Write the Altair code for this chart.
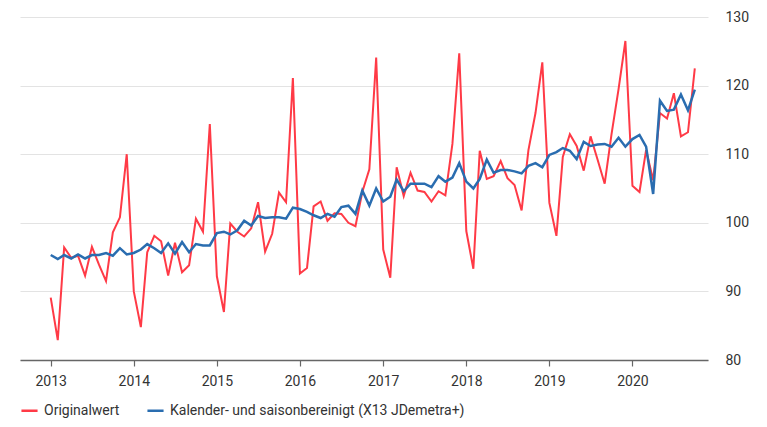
import altair as alt
import pandas as pd

years = list(range(2013, 2021))
original = [
    89.1, 82.9, 96.4, 94.9, 95.2, 92.3, 96.5, 93.9, 91.5, 98.6, 100.8, 110.0,
    90.0, 84.8, 95.7, 98.1, 97.3, 92.3, 97.1, 92.8, 93.8, 100.6, 98.7, 114.4,
    92.2, 87.0, 99.9, 98.7, 98.0, 99.2, 103.0, 95.8, 98.4, 104.4, 103.0, 121.1,
    92.6, 93.4, 102.4, 103.1, 100.3, 101.4, 101.3, 100.0, 99.5, 104.5, 107.8, 124.1,
    96.1, 92.0, 108.1, 103.9, 107.3, 104.7, 104.5, 103.1, 104.6, 104.0, 111.5, 124.7,
    98.8, 93.3, 110.5, 106.4, 106.8, 109.0, 106.5, 105.5, 101.8, 110.6, 116.0, 123.4,
    102.9, 98.1, 109.6, 112.9, 111.2, 107.6, 112.6, 109.2, 105.7, 112.9, 119.5, 126.5,
    105.4, 104.5, 110.6, 106.2, 116.0, 115.2, 118.9, 112.6, 113.2, 122.5,
]
adjusted = [
    95.3, 94.7, 95.3, 94.8, 95.4, 94.8, 95.3, 95.3, 95.6, 95.2, 96.3, 95.4,
    95.6, 96.1, 96.9, 96.3, 95.6, 97.0, 95.5, 97.2, 95.7, 96.9, 96.7, 96.7,
    98.5, 98.7, 98.3, 98.9, 100.3, 99.6, 101.0, 100.7, 100.8, 100.8, 100.6, 102.2,
    102.0, 101.6, 101.1, 100.7, 101.3, 100.9, 102.3, 102.5, 101.3, 104.7, 102.5, 105.0,
    103.1, 103.8, 106.3, 104.6, 105.7, 105.7, 105.7, 105.2, 106.8, 106.0, 106.6, 108.7,
    106.0, 105.0, 106.4, 109.2, 107.3, 107.7, 107.7, 107.5, 107.2, 108.3, 108.7, 108.1,
    109.9, 110.3, 110.9, 110.5, 109.3, 111.8, 111.2, 111.4, 111.5, 111.1, 112.4, 111.1,
    112.2, 112.8, 111.1, 104.2, 117.8, 116.3, 116.5, 118.7, 116.4, 119.4,
]
series_names = ["Originalwert", "Kalender- und saisonbereinigt (X13 JDemetra+)"]
y_ticks = [80, 90, 100, 110, 120, 130]

dates = pd.date_range("2013-01-01", periods=len(original), freq="MS")
df = pd.concat([
    pd.DataFrame({"date": dates, "value": original, "series": series_names[0]}),
    pd.DataFrame({"date": dates, "value": adjusted, "series": series_names[1]}),
])

FONT = "Roboto"
RED = "#ff3a46"
BLUE = "#2a6db0"

x_enc = alt.X(
    "date:T",
    scale=alt.Scale(domain=["2012-08-19", "2020-11-28"]),
    axis=alt.Axis(
        values=[f"{y}-01-01" for y in years],
        format="%Y",
        title=None,
        grid=False,
        domainColor="#666666",
        domainWidth=1.5,
        tickColor="#666666",
        tickSize=6,
        tickWidth=1.2,
        labelPadding=8,
        labelFont=FONT,
        labelFontSize=14,
        labelColor="#333333",
    ),
)
y_enc = alt.Y(
    "value:Q",
    scale=alt.Scale(domain=[80, 130], nice=False, zero=False),
    axis=alt.Axis(
        orient="right",
        values=y_ticks,
        title=None,
        domain=False,
        ticks=False,
        labelPadding=17,
        gridColor="#e3e3e3",
        gridWidth=1.2,
        labelFont=FONT,
        labelFontSize=14,
        labelColor="#333333",
    ),
)
color_enc = alt.Color(
    "series:N",
    scale=alt.Scale(domain=series_names, range=[RED, BLUE]),
    legend=alt.Legend(
        title=None,
        orient="none",
        direction="horizontal",
        legendX=0,
        legendY=384,
        symbolType="stroke",
        symbolSize=260,
        symbolStrokeWidth=2.5,
        labelFont=FONT,
        labelFontSize=14,
        labelColor="#333333",
        labelOffset=5,
        labelLimit=500,
        columnPadding=22,
    ),
    sort=series_names,
)

base = alt.Chart(df).encode(x=x_enc, y=y_enc, color=color_enc)
red_line = base.transform_filter(alt.datum.series == series_names[0]).mark_line(strokeWidth=2)
blue_line = base.transform_filter(alt.datum.series == series_names[1]).mark_line(strokeWidth=2.5)

chart = alt.layer(red_line, blue_line).properties(
    width=688,
    height=343,
    autosize=alt.AutoSizeParams(type="none"),
    padding={"left": 12, "top": 9, "right": 50, "bottom": 58},
).configure_view(stroke=None)

chart.save("out.html", embed_options={"renderer": "svg", "actions": False})
